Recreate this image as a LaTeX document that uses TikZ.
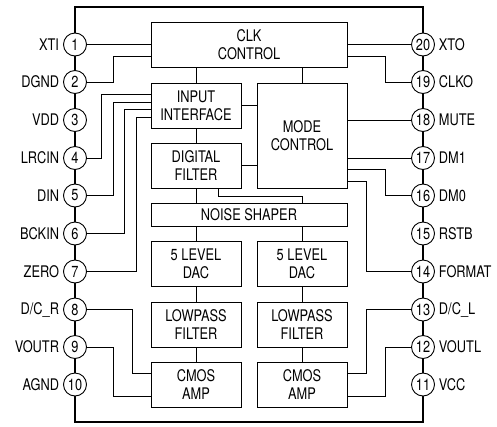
\documentclass[tikz,border=0pt]{standalone}
\usepackage{fontspec}
\setmainfont[FakeStretch=0.8]{TeX Gyre Heros}
\usetikzlibrary{positioning}

\begin{document}
\begin{tikzpicture}[
  x=1pt,y=-1pt,
  font=\fontsize{16}{18}\selectfont,
  line width=.9pt,
  box/.style={draw,align=center,inner sep=0pt,outer sep=0pt,minimum width=90pt,minimum height=45pt},
  widebox/.style={box,minimum width=196pt},
  pin/.style={draw,circle,fill=white,inner sep=0pt,outer sep=0pt,minimum size=23pt},
  lbl/.style={inner sep=0pt,label distance=4pt}]
\useasboundingbox (0,0) rectangle (497,426);
\node[draw,line width=1.5pt,minimum width=348pt,minimum height=415pt,inner sep=0pt,outer sep=0pt] (pkg) at (249,214.5) {};
% left and right pins
\foreach \n/\y/\txt in {1/44.5/XTI,2/82/DGND,3/120/VDD,4/158/LRCIN,5/195.5/DIN,6/233.5/BCKIN,7/271.5/ZERO,8/309.5/{D/C\_R},9/347/VOUTR,10/384.5/AGND}
  \node[pin,label={[lbl]left:\txt}] (p\n) at (75,\y) {\n};
\foreach \n/\y/\txt in {20/44.5/XTO,19/82/CLKO,18/120/MUTE,17/158/DM1,16/195.5/DM0,15/233.5/RSTB,14/271.5/FORMAT,13/309.5/{D/C\_L},12/347/VOUTL,11/384.5/VCC}
  \node[pin,label={[lbl]right:\txt}] (p\n) at (423,\y) {\n};
% blocks
\node[widebox] (clk) at (249,45) {CLK\\CONTROL};
\node[box,below right=15.5pt and 0pt of clk.south west] (iface) {INPUT\\INTERFACE};
\node[box,below=15pt of iface] (digital) {DIGITAL\\FILTER};
\node[box,below left=15.5pt and 0pt of clk.south east,minimum height=105pt] (mode) {MODE\\CONTROL};
\node[widebox,below right=15.5pt and 0pt of digital.south west,minimum height=22.5pt] (noise) {NOISE SHAPER};
\node[box,below right=15.5pt and 0pt of noise.south west] (dacl) {5 LEVEL\\DAC};
\node[box,below left=15.5pt and 0pt of noise.south east] (dacr) {5 LEVEL\\DAC};
\node[box,below=15.5pt of dacl] (lpl) {LOWPASS\\FILTER};
\node[box,below=15.5pt of dacr] (lpr) {LOWPASS\\FILTER};
\node[box,below=15.5pt of lpl] (ampl) {CMOS\\AMP};
\node[box,below=15.5pt of lpr] (ampr) {CMOS\\AMP};
% inside the chip
\draw (clk.south -| iface.north)--(iface.north);
\draw (clk.south -| mode.north)--(mode.north);
\draw (iface.south)--(digital.north);
\draw (iface.east |- 0,105)--(mode.west |- 0,105);
\draw (digital.east)--(digital.east -| mode.west);
\draw (digital.south)--(digital.south |- noise.north);
\draw (218.5,0 |- digital.south)--(218.5,196)-|(noise.north -| mode.north);
\draw (noise.south -| dacl.north)--(dacl.north);
\draw (noise.south -| dacr.north)--(dacr.north);
\draw (dacl)--(lpl); \draw (dacr)--(lpr);
\draw (lpl)--(ampl); \draw (lpr)--(ampr);
% pins to blocks
\draw (p1.east)--(p1.east -| clk.west);
\draw (p2.east)-|(113,56)--(clk.west |- 0,56);
\draw (p4.east)-|(101.5,94.5)--(iface.west |- 0,94.5);
\draw (p5.east)-|(113,102)--(iface.west |- 0,102);
\draw (p6.east)-|(124.5,109.5)--(iface.west |- 0,109.5);
\draw (p7.east)-|(136,117)--(iface.west |- 0,117);
\draw (p8.east)-|(132,373.5)--(ampl.west |- 0,373.5);
\draw (p9.east)-|(113,396)--(ampl.west |- 0,396);
\draw (p20.west)--(p20.west -| clk.east);
\draw (p19.west)-|(385,56)--(clk.east |- 0,56);
\draw (p18.west)--(p18.west -| mode.east);
\draw (p17.west)--(p17.west -| mode.east);
\draw (p16.west)-|(385,169.5)--(mode.east |- 0,169.5);
\draw (p14.west)-|(366,181)--(mode.east |- 0,181);
\draw (p13.west)-|(366,373.5)--(ampr.east |- 0,373.5);
\draw (p12.west)-|(385,396)--(ampr.east |- 0,396);
\end{tikzpicture}
\end{document}
